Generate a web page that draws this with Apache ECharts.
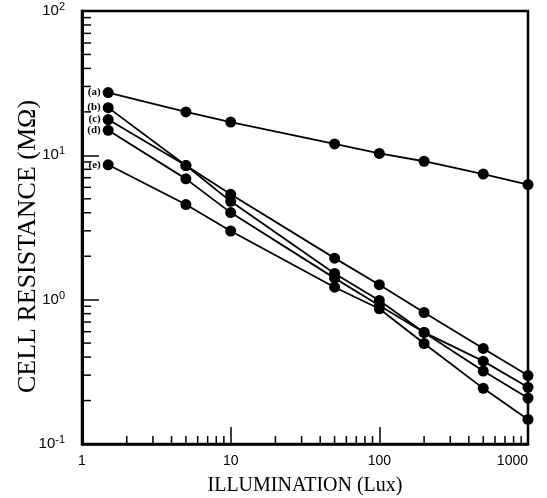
<!DOCTYPE html>
<html>
<head>
<meta charset="utf-8">
<script src="https://cdn.jsdelivr.net/npm/echarts@6/dist/echarts.min.js"></script>
<style>
  html, body { margin: 0; padding: 0; background: #fff; }
  #chart { width: 547px; height: 498px; }
</style>
</head>
<body>
<div id="chart"></div>
<script>
// illumination levels (Lux)
const lux = [1.5, 5, 10, 50, 100, 200, 500, 1000];

// cell resistance (MOhm) for each curve
const seriesA = [27.2, 20.0, 17.0, 12.0, 10.3, 9.1, 7.41, 6.27];
const seriesB = [21.4, 8.5, 5.37, 1.94, 1.27, 0.815, 0.459, 0.298];
const seriesC = [17.7, 8.5, 4.80, 1.52, 0.987, 0.593, 0.375, 0.247];
const seriesD = [14.9, 6.87, 4.01, 1.41, 0.912, 0.593, 0.320, 0.208];
const seriesE = [8.6, 4.56, 2.99, 1.22, 0.865, 0.497, 0.243, 0.148];
const curveNames = ['(a)', '(b)', '(c)', '(d)', '(e)'];

// minor ticks of the log axes
const xMinorTicks = [2, 3, 4, 5, 6, 7, 8, 9, 20, 30, 40, 50, 60, 70, 80, 90,
    200, 300, 400, 500, 600, 700, 800, 900];
const yMinorTicks = [0.2, 0.3, 0.4, 0.5, 0.6, 0.7, 0.8, 0.9, 2, 3, 4, 5, 6, 7, 8, 9,
    20, 30, 40, 50, 60, 70, 80, 90];

const serif = '"Liberation Serif", "DejaVu Serif", serif';
const sans = '"Liberation Sans", Arial, sans-serif';

function curve(name, values) {
    return {
        name: name,
        type: 'line',
        data: lux.map((x, i) => [x, values[i]]),
        symbol: 'circle',
        symbolSize: 11,
        clip: false,
        itemStyle: {color: '#000'},
        lineStyle: {color: '#000', width: 1.8},
        label: {
            show: true,
            position: 'left',
            distance: 2,
            fontFamily: serif,
            fontWeight: 'bold',
            fontSize: 11,
            color: '#000',
            formatter: p => p.dataIndex === 0 ? name : ''
        },
        z: 3
    };
}

const chart = echarts.init(document.getElementById('chart'));
chart.setOption({
    animation: false,
    grid: {
        left: 82, right: 19, top: 11, bottom: 54,
        outerBoundsMode: 'none',
        show: true, borderColor: '#000', borderWidth: 2.5
    },
    xAxis: {
        type: 'log',
        logBase: 10,
        min: 1,
        max: 1000,
        name: 'ILLUMINATION (Lux)',
        nameLocation: 'middle',
        nameGap: 32,
        nameMoveOverlap: false,
        nameTextStyle: {fontFamily: serif, fontSize: 20, color: '#000'},
        axisLine: {lineStyle: {color: '#000', width: 2.5}},
        axisTick: {inside: true, length: 17, lineStyle: {color: '#000', width: 1.5}},
        axisLabel: {
            fontFamily: sans, fontSize: 14, color: '#000', margin: 10,
            alignMaxLabel: 'right',
            formatter: v => String(Math.round(v))
        },
        splitLine: {show: false}
    },
    yAxis: {
        type: 'log',
        logBase: 10,
        min: 0.1,
        max: 100,
        name: 'CELL RESISTANCE (M\u03A9)',
        nameLocation: 'middle',
        nameGap: 41,
        nameMoveOverlap: false,
        nameTextStyle: {fontFamily: serif, fontSize: 26, color: '#000', padding: [0, 38, 0, 0]},
        axisLine: {lineStyle: {color: '#000', width: 3}},
        axisTick: {inside: true, length: 17, lineStyle: {color: '#000', width: 1.5}},
        axisLabel: {
            margin: 17,
            formatter: v => '10{s|' + Math.round(Math.log10(v)) + '}',
            rich: {
                s: {fontFamily: sans, fontSize: 11, color: '#000', verticalAlign: 'top', padding: [0, 0, 8, 0]}
            },
            fontFamily: sans, fontSize: 15, color: '#000'
        },
        splitLine: {show: false}
    },
    series: [
        curve(curveNames[0], seriesA),
        curve(curveNames[1], seriesB),
        curve(curveNames[2], seriesC),
        curve(curveNames[3], seriesD),
        curve(curveNames[4], seriesE),
        {
            type: 'custom',
            silent: true,
            data: xMinorTicks.map(v => [v, 0.1]),
            renderItem: (params, api) => {
                const p = api.coord([api.value(0), api.value(1)]);
                return {
                    type: 'line',
                    shape: {x1: p[0], y1: p[1], x2: p[0], y2: p[1] - 8},
                    style: {stroke: '#000', lineWidth: 1.5}
                };
            }
        },
        {
            type: 'custom',
            silent: true,
            data: yMinorTicks.map(v => [1, v]),
            renderItem: (params, api) => {
                const p = api.coord([api.value(0), api.value(1)]);
                return {
                    type: 'line',
                    shape: {x1: p[0], y1: p[1], x2: p[0] + 9, y2: p[1]},
                    style: {stroke: '#000', lineWidth: 1.5}
                };
            }
        }
    ]
});
</script>
</body>
</html>
